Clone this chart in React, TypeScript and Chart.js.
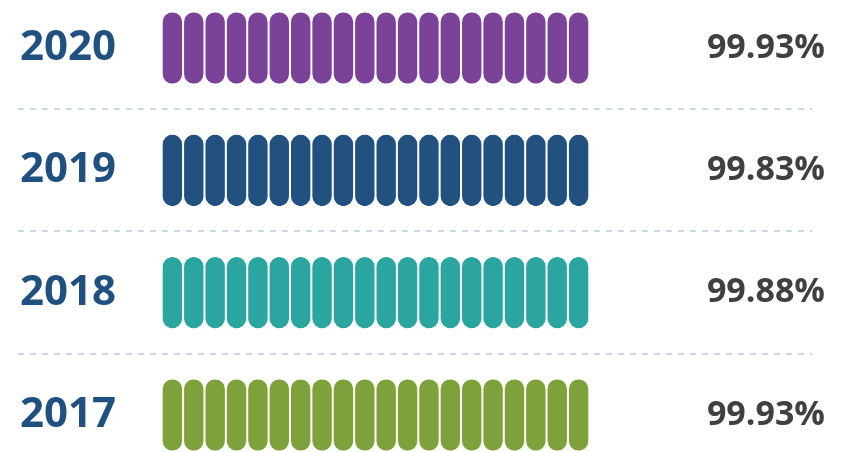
import React, { useEffect, useRef } from "react";
import { Chart, registerables } from "chart.js";

Chart.register(...registerables);

// ---- data ----
const years: string[] = ["2020", "2019", "2018", "2017"];
const percentages: number[] = [99.93, 99.83, 99.88, 99.93];
const rowColors: string[] = ["#7b4299", "#23517f", "#2aa59f", "#7ea13c"];
const pillCount = 20;

const percentLabels = percentages.map((p) => p.toFixed(2) + "%");
const filledPills = percentages.map((p) => Math.round((p / 100) * pillCount));

// layout (pixels)
const PILL_LEFT = 161.7;
const PILL_RIGHT = 589.3;
const LINE_LEFT = 18;
const LINE_RIGHT = 812;
const TEXT_LEFT = 20;
const TEXT_RIGHT = 825;

export default function App() {
  const canvasRef = useRef<HTMLCanvasElement | null>(null);

  useEffect(() => {
    document.body.style.margin = "0";
    const canvas = canvasRef.current;
    if (!canvas) return;

    const datasets = Array.from({ length: pillCount }, (_, i) => ({
      label: "pill " + (i + 1),
      data: filledPills.map((f) => Math.max(0, Math.min(1, f - i))),
      backgroundColor: (ctx: any) => rowColors[ctx.dataIndex],
      borderColor: "#ffffff",
      borderWidth: { left: 1, right: 1, top: 0, bottom: 0 },
      borderRadius: { topLeft: 11, topRight: 11, bottomLeft: 11, bottomRight: 11 },
      borderSkipped: false,
      barPercentage: 1,
      categoryPercentage: 0.585,
      clip: false as any,
    }));

    const gridColor = "#cbd9e7";
    // x range so that the pills fill PILL_LEFT..PILL_RIGHT while the chart area reaches LINE_RIGHT
    const xMax = (pillCount * (LINE_RIGHT - PILL_LEFT)) / (PILL_RIGHT - PILL_LEFT);

    const chart = new Chart(canvas, {
      type: "bar",
      data: { labels: years, datasets: datasets as any },
      options: {
        animation: false,
        responsive: false,
        devicePixelRatio: 1,
        indexAxis: "y",
        layout: { padding: { left: TEXT_LEFT, right: 848 - TEXT_RIGHT, top: 48, bottom: 37 } },
        plugins: {
          legend: { display: false },
          tooltip: { enabled: false },
        },
        scales: {
          x: {
            stacked: true,
            min: 0,
            max: xMax,
            display: false,
          },
          y: {
            type: "category",
            position: "left",
            stacked: true,
            offset: false,
            border: { display: false, dash: [6, 6] },
            grid: {
              offset: true,
              color: gridColor,
              lineWidth: 2,
              drawTicks: true,
              tickLength: PILL_LEFT - LINE_LEFT,
              tickColor: gridColor,
              tickWidth: 2,
              tickBorderDash: [6, 6],
            },
            ticks: {
              autoSkip: false,
              crossAlign: "far",
              padding: 0,
              color: "#1f5080",
              font: { family: "'Open Sans'", weight: "bold", size: 42 },
            },
            afterFit: (scale: any) => {
              scale.width = PILL_LEFT - TEXT_LEFT;
            },
          },
          y2: {
            type: "category",
            position: "right",
            labels: percentLabels,
            offset: false,
            border: { display: false },
            grid: { display: false, drawTicks: false },
            ticks: {
              autoSkip: false,
              mirror: true,
              crossAlign: "near",
              padding: TEXT_RIGHT - LINE_RIGHT,
              color: "#404040",
              font: { family: "'Open Sans'", weight: "bold", size: 34 },
            },
            afterFit: (scale: any) => {
              scale.width = TEXT_RIGHT - LINE_RIGHT;
            },
          },
        } as any,
      },
    });

    return () => {
      chart.destroy();
    };
  }, []);

  return (
    <div style={{ width: 848, height: 452, background: "#ffffff" }}>
      <canvas ref={canvasRef} width={848} height={452} />
    </div>
  );
}
